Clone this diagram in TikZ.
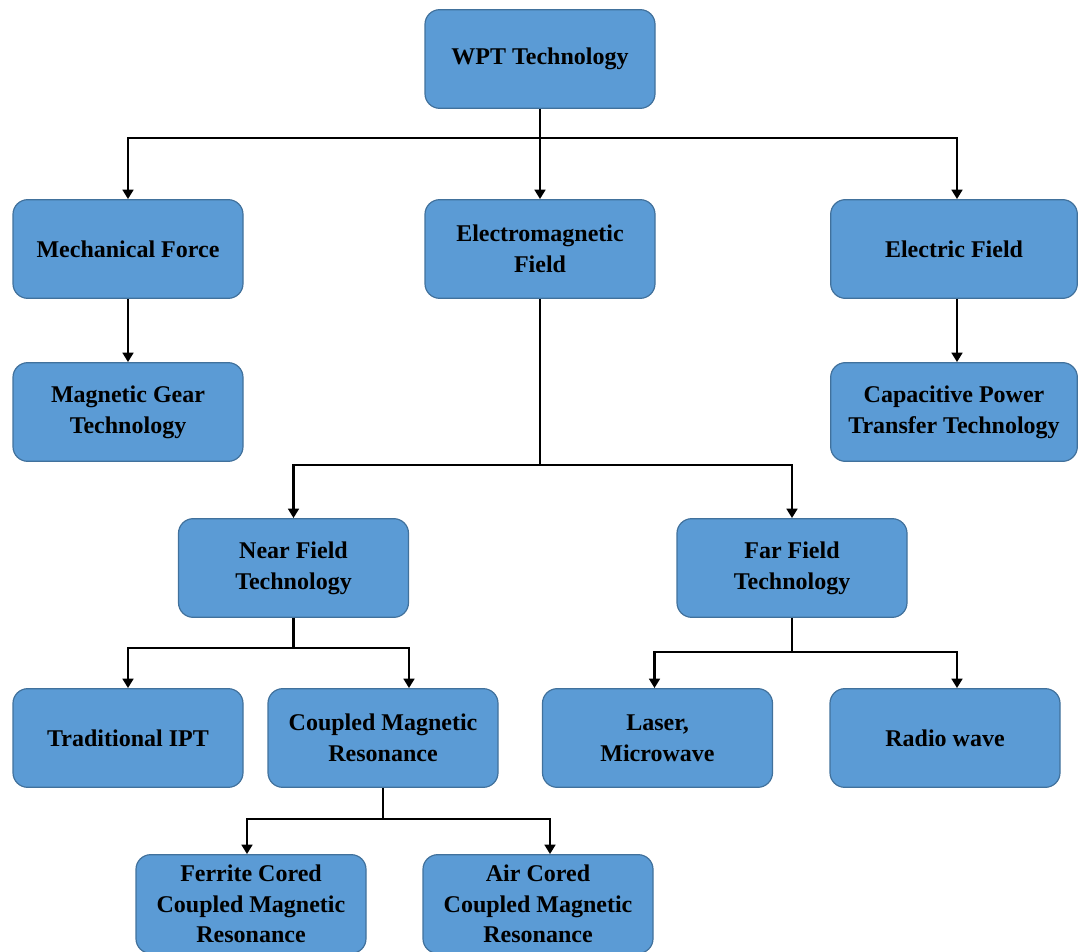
\documentclass[tikz,border=0pt]{standalone}
\usepackage{fontspec}
\setmainfont{Liberation Serif}
\usetikzlibrary{arrows.meta,calc}
\definecolor{boxfill}{HTML}{5B9BD5}
\definecolor{boxedge}{HTML}{41719C}
\tikzset{
  block/.style={draw=boxedge, fill=boxfill, line width=0.9pt, rounded corners=11pt,
    minimum width=172.5pt, minimum height=74pt, align=center,
    font=\fontsize{18}{23}\selectfont\bfseries, text=black, inner sep=2pt},
  wideblock/.style={block, minimum width=185pt},
  link/.style={line width=1.9pt, draw=black},
  arrowlink/.style={link, -{Triangle[width=8pt,length=7pt]}}
}
\begin{document}
\begin{tikzpicture}[x=0.75pt, y=-0.75pt]
\useasboundingbox (0,0) rectangle (1078,952);
\clip (0,0) rectangle (1078,952);

% top level
\node[block] (wpt) at (540,59) {WPT Technology};

% second level
\node[block] (mech) at (128,249) {Mechanical Force};
\node[block] (em) at (540,249) {Electromagnetic\\Field};
\node[wideblock] (elec) at (954,249) {Electric Field};

% third level
\node[block] (gear) at (128,412) {Magnetic Gear\\Technology};
\node[wideblock] (cap) at (954,412) {Capacitive Power\\Transfer Technology};

% near / far field
\node[block] (near) at (293.5,568) {Near Field\\Technology};
\node[block] (far) at (792,568) {Far Field\\Technology};

% leaves of near / far field
\node[block] (ipt) at (128,738) {Traditional IPT};
\node[block] (cmr) at (383,738) {Coupled Magnetic\\Resonance};
\node[block] (laser) at (657.5,738) {Laser,\\Microwave};
\node[block] (radio) at (945,738) {Radio wave};

% coupled magnetic resonance variants
\node[block] (ferrite) at (251,904) {Ferrite Cored\\Coupled Magnetic\\Resonance};
\node[block] (air) at (538,904) {Air Cored\\Coupled Magnetic\\Resonance};

% WPT -> three branches
\draw[link] (wpt.south) -- ++(0,29) coordinate (t1);
\draw[arrowlink] (t1) -| (mech.north);
\draw[arrowlink] (t1) -| ($(elec.north)+(3,0)$);
\draw[arrowlink] (wpt.south) -- (em.north);

% single children
\draw[arrowlink] (mech.south) -- (gear.north);
\draw[arrowlink] ($(elec.south)+(3,0)$) -- ($(cap.north)+(3,0)$);

% electromagnetic field -> near / far
\draw[link] (em.south) -- ++(0,166) coordinate (t2);
\draw[arrowlink] (t2) -| (near.north);
\draw[arrowlink] (t2) -| (far.north);

% near field -> IPT / CMR
\draw[link] (near.south) -- ++(0,30) coordinate (t3);
\draw[arrowlink] (t3) -| (ipt.north);
\draw[arrowlink] (t3) -| ($(cmr.north)+(26,0)$);

% far field -> laser / radio
\draw[link] (far.south) -- ++(0,34) coordinate (t4);
\draw[arrowlink] (t4) -| ($(laser.north)+(-3,0)$);
\draw[arrowlink] (t4) -| ($(radio.north)+(12,0)$);

% CMR -> ferrite / air cored
\draw[link] (cmr.south) -- ++(0,31) coordinate (t5);
\draw[arrowlink] (t5) -| ($(ferrite.north)+(-4,0)$);
\draw[arrowlink] (t5) -| ($(air.north)+(12,0)$);
\end{tikzpicture}
\end{document}
